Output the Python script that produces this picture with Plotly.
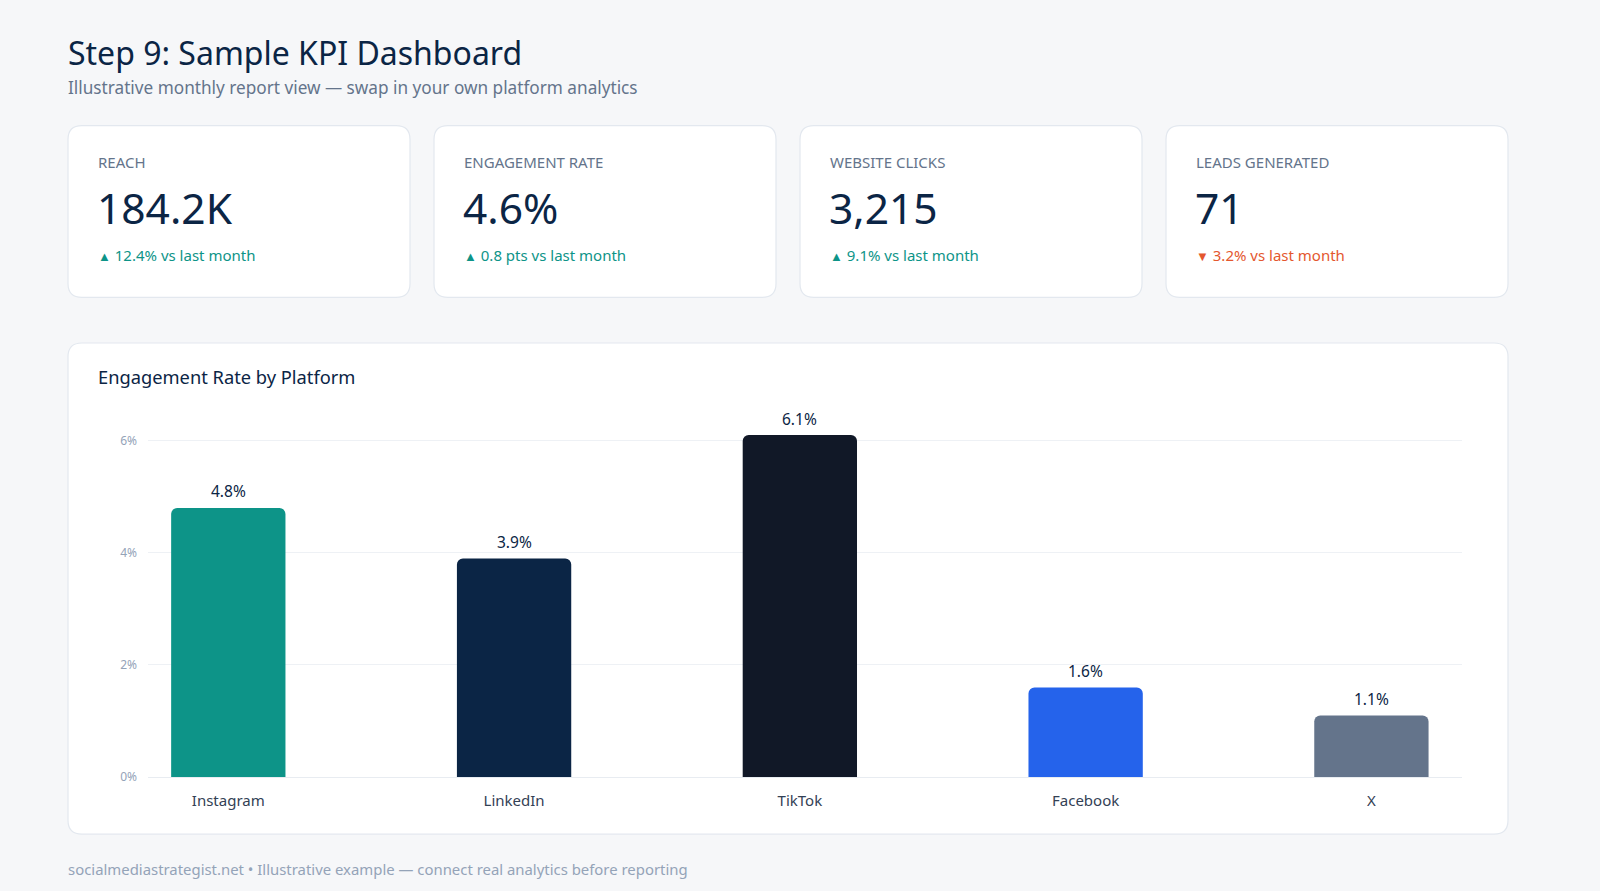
import plotly.graph_objects as go

# ---- data -------------------------------------------------------------
platforms = ["Instagram", "LinkedIn", "TikTok", "Facebook", "X"]
engagement_rate = [4.8, 3.9, 6.1, 1.6, 1.1]
bar_colors = ["#0d9488", "#0b2545", "#111827", "#2563eb", "#64748b"]

kpi_labels = ["REACH", "ENGAGEMENT RATE", "WEBSITE CLICKS", "LEADS GENERATED"]
kpi_values = ["184.2K", "4.6%", "3,215", "71"]
kpi_deltas = ["12.4% vs last month", "0.8 pts vs last month", "9.1% vs last month", "3.2% vs last month"]
kpi_up = [True, True, True, False]

y_ticks = [0, 2, 4, 6]

# ---- page geometry (px) ----------------------------------------------
W, H = 1600, 891
SY = 1.0105  # vertical correction for measured positions
FONT = "Noto Sans, Open Sans, sans-serif"
NAVY = "#0b2545"
MUTED = "#64748b"
UP, DOWN = "#0d9488", "#e4572e"


def px_x(x):
    return x / W


def px_y(y):
    return 1 - y * SY / H


def rounded_rect(x0, y0, x1, y1, r):
    """Rounded rectangle path in paper coords from pixel box."""
    ry = r / SY
    pts = [
        f"M {px_x(x0 + r)} {px_y(y0)}",
        f"L {px_x(x1 - r)} {px_y(y0)}",
        f"Q {px_x(x1)} {px_y(y0)} {px_x(x1)} {px_y(y0 + ry)}",
        f"L {px_x(x1)} {px_y(y1 - ry)}",
        f"Q {px_x(x1)} {px_y(y1)} {px_x(x1 - r)} {px_y(y1)}",
        f"L {px_x(x0 + r)} {px_y(y1)}",
        f"Q {px_x(x0)} {px_y(y1)} {px_x(x0)} {px_y(y1 - ry)}",
        f"L {px_x(x0)} {px_y(y0 + ry)}",
        f"Q {px_x(x0)} {px_y(y0)} {px_x(x0 + r)} {px_y(y0)}",
        "Z",
    ]
    return " ".join(pts)


def card(x0, y0, x1, y1):
    return dict(
        type="path", xref="paper", yref="paper", layer="below",
        path=rounded_rect(x0, y0, x1, y1, 14),
        fillcolor="white", line=dict(color="#e3e8ef", width=1.2),
    )


def text(x, y, s, size, color, xanchor="left"):
    return dict(
        x=px_x(x), y=px_y(y), xref="paper", yref="paper",
        text=s, showarrow=False, xanchor=xanchor, yanchor="middle",
        font=dict(family=FONT, size=size, color=color),
    )


# ---- chart ------------------------------------------------------------
fig = go.Figure(
    go.Bar(
        x=platforms,
        y=engagement_rate,
        width=0.4,
        marker=dict(color=bar_colors, cornerradius=6, line=dict(width=0)),
        hoverinfo="skip",
    )
)

shapes = []
annotations = []

# value labels above the bars
for p, v in zip(platforms, engagement_rate):
    annotations.append(dict(
        x=p, y=v, xref="x", yref="y", text=f"{v:.1f}%", showarrow=False,
        xanchor="center", yanchor="bottom", yshift=3.5,
        font=dict(family=FONT, size=15.5, color=NAVY),
    ))

# header
annotations.append(text(66, 52, "Step 9: Sample KPI Dashboard", 32, NAVY))
annotations.append(text(66, 87.3, "Illustrative monthly report view \u2014 swap in your own platform analytics", 17.2, MUTED))

# kpi cards
card_w, gap, left = 342, 24, 68
for i, (lab, val, delta, up) in enumerate(zip(kpi_labels, kpi_values, kpi_deltas, kpi_up)):
    cx = left + i * (card_w + gap)
    shapes.append(card(cx, 125.5, cx + card_w, 297))
    annotations.append(text(cx + 28, 161.3, lab, 15, MUTED))
    annotations.append(text(cx + 27, 207.5, val, 42.5, NAVY))
    arrow = "\u25b2" if up else "\u25bc"
    annotations.append(text(
        cx + 28, 255,
        f"<span style='font-size:13px'>{arrow}</span> {delta}",
        15, UP if up else DOWN,
    ))

# chart card
shapes.append(card(68, 342.5, 1508, 833))
annotations.append(text(96, 376.3, "Engagement Rate by Platform", 18.3, NAVY))

# footer
annotations.append(text(66, 867.3, "socialmediastrategist.net \u2022 Illustrative example \u2014 connect real analytics before reporting", 14.9, "#94a3b8"))

fig.update_layout(
    width=W, height=H,
    margin=dict(l=0, r=0, t=0, b=0, pad=0),
    paper_bgcolor="#f6f7f9",
    plot_bgcolor="rgba(0,0,0,0)",
    showlegend=False,
    shapes=shapes,
    annotations=annotations,
    font=dict(family=FONT),
)

fig.update_xaxes(
    domain=[px_x(148), px_x(1462)],
    range=[-0.281, 4.317],
    showgrid=False, zeroline=False, showline=False, ticks="",
    tickfont=dict(family=FONT, size=15, color="#334155"),
    ticklabelstandoff=13,
)
fig.update_yaxes(
    domain=[px_y(776), px_y(412)],
    range=[0, 6.5],
    tickvals=y_ticks,
    ticktext=[f"{t}%" for t in y_ticks],
    showgrid=True, gridcolor="#eef1f5", gridwidth=1,
    zeroline=True, zerolinecolor="#e8ecf1", zerolinewidth=1,
    showline=False, ticks="",
    tickfont=dict(family=FONT, size=12, color="#94a3b8"),
    ticklabelstandoff=10,
)

fig.write_html(
    "out.html",
    config={"displayModeBar": False},
    post_script="document.body.style.margin='0';",
)
